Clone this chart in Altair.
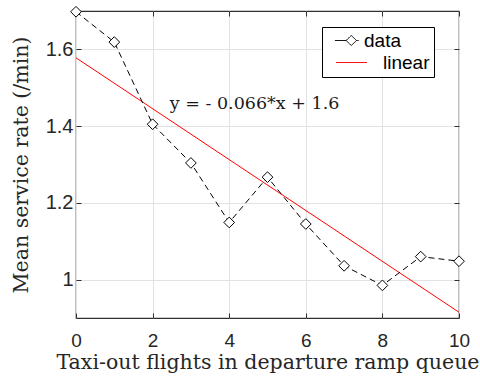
import altair as alt
import pandas as pd

# ---- data ----
x_vals = [0, 1, 2, 3, 4, 5, 6, 7, 8, 9, 10]
y_vals = [1.698, 1.619, 1.405, 1.304, 1.149, 1.267, 1.145, 1.036, 0.985, 1.060, 1.048]
fit_x = [0, 10]
fit_y = [1.578, 0.915]
series_names = ["data", "linear"]
series_colors = ["black", "red"]
x_ticks = [0, 2, 4, 6, 8, 10]
y_ticks = [1.0, 1.2, 1.4, 1.6]
annotation_text = ["y = - 0.066*x + 1.6"]
annotation_x = [2.45]
annotation_y = [1.457]

data_df = pd.DataFrame({"x": x_vals, "y": y_vals, "series": series_names[0]})
fit_df = pd.DataFrame({"x": fit_x, "y": fit_y, "series": series_names[1]})
ann_df = pd.DataFrame({"x": annotation_x, "y": annotation_y, "label": annotation_text})

AX = "#303030"
xs = alt.Scale(domain=[0, 10], nice=False, zero=False)
ys = alt.Scale(domain=[0.9, 1.7], nice=False, zero=False)

x_main = alt.Axis(values=x_ticks, grid=True, gridColor="#e2e2e2", domain=False,
                  tickSize={"expr": "-5"}, tickColor=AX, labelFont="Liberation Sans",
                  labelFontSize=19, labelColor="#262626", labelPadding=18, labelFlush=False,
                  title="Taxi-out flights in departure ramp queue", titleFont="DejaVu Serif",
                  titleFontSize=20.5, titleFontWeight="normal", titleColor="#262626", titlePadding=2)
y_main = alt.Axis(values=y_ticks, grid=True, gridColor="#e2e2e2", domain=False,
                  tickSize={"expr": "-5"}, tickColor=AX, labelFont="Liberation Sans",
                  labelFontSize=20, labelColor="#262626", labelPadding=8, format="~g",
                  title="Mean service rate (/min)", titleFont="DejaVu Serif",
                  titleFontSize=20.5, titleFontWeight="normal", titleColor="#262626", titlePadding=14)

data_symbol = "M-1.4,0H-0.15M1.0,0H1.25M-0.15,0L0.42,-0.56L1.0,0L0.42,0.56Z"
line_symbol = "M-1.27,0H2.17"

color = alt.Color("series:N", scale=alt.Scale(domain=series_names, range=series_colors),
                  legend=alt.Legend(
                      title=None, orient="none", legendX=246, legendY=16,
                      labelFont="Liberation Sans", labelFontSize=19, labelColor="black",
                      labelExpr="datum.value == 'linear' ? '\u2060\u2003linear' : datum.label",
                      symbolSize=324, symbolStrokeWidth=1, symbolOffset=12, labelOffset=7,
                      symbolType={"expr": f"datum.value == 'data' ? '{data_symbol}' : '{line_symbol}'"},
                      symbolDash=[1, 0],
                      padding=4, rowPadding=2, strokeColor="black", fillColor="white",
                      cornerRadius=0))

fit_line = alt.Chart(fit_df).mark_line(strokeWidth=1).encode(
    x=alt.X("x:Q", scale=xs, axis=x_main),
    y=alt.Y("y:Q", scale=ys, axis=y_main),
    color=color,
)

data_line = alt.Chart(data_df).mark_line(strokeWidth=1, strokeDash=[6, 4]).encode(
    x=alt.X("x:Q", scale=xs, axis=None),
    y=alt.Y("y:Q", scale=ys, axis=None),
    color=color,
)

points = alt.Chart(data_df).mark_point(shape="diamond", size=115, filled=False,
                                       fill="white", fillOpacity=1, stroke="black",
                                       strokeWidth=1, opacity=1).encode(
    x=alt.X("x:Q", scale=xs, axis=None),
    y=alt.Y("y:Q", scale=ys, axis=None),
)

ann = alt.Chart(ann_df).mark_text(align="left", baseline="middle", font="DejaVu Serif",
                                  fontSize=17.5, color="#1a1a1a").encode(
    x=alt.X("x:Q", scale=xs, axis=None),
    y=alt.Y("y:Q", scale=ys, axis=None),
    text="label:N",
)

frame_axes = alt.Chart(data_df).mark_point(opacity=0).encode(
    x=alt.X("x:Q", scale=xs, axis=alt.Axis(orient="top", values=x_ticks, labels=False,
                                           grid=False, domain=False, tickColor=AX,
                                           tickSize={"expr": "-5"}, title=None)),
    y=alt.Y("y:Q", scale=ys, axis=alt.Axis(orient="right", values=y_ticks, labels=False,
                                           grid=False, domain=False, tickColor=AX,
                                           tickSize={"expr": "-5"}, title=None)),
)

chart = alt.layer(fit_line, data_line, points, ann, frame_axes).resolve_axis(
    x="independent", y="independent"
).properties(
    width=383, height=307,
    autosize=alt.AutoSizeParams(type="none"),
    padding={"left": 76, "top": 11, "right": 21, "bottom": 61},
    background="white",
).configure_view(stroke=AX, strokeWidth=1.2)

chart.save("out.html", embed_options={"renderer": "svg", "actions": False})
